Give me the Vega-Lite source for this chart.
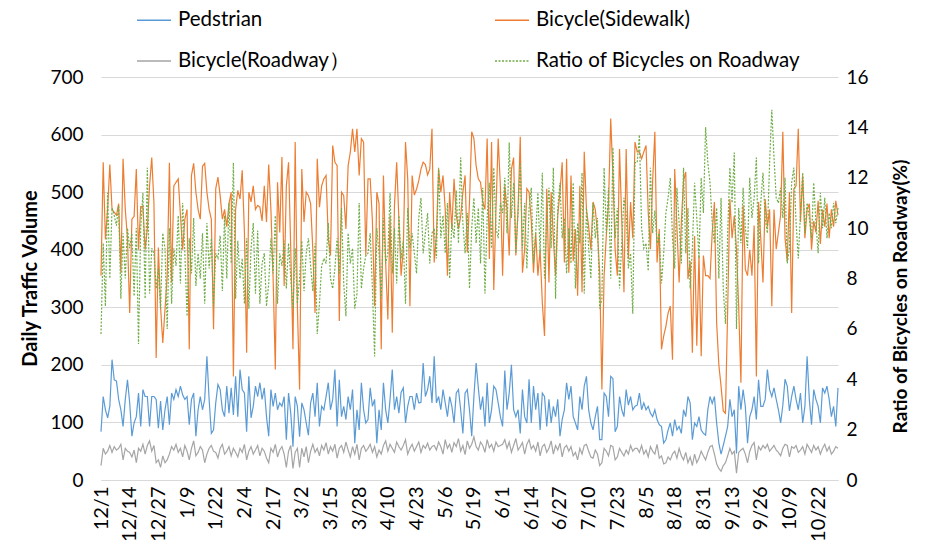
{
  "$schema": "https://vega.github.io/schema/vega-lite/v6.json",
  "width": 737,
  "height": 403,
  "autosize": {"type": "none"},
  "padding": {"left": 101, "top": 77, "right": 90, "bottom": 69},
  "background": "white",
  "config": {"font": "Lato", "view": {"stroke": null}},
  "data": {
    "format": {"parse": {"d": "date:'%Y-%m-%d'"}},
    "values": [
{"d":"2018-12-01","p":84,"s":355,"r":25,"q":5.8},
{"d":"2018-12-02","p":145,"s":552,"r":55,"q":9.4},
{"d":"2018-12-03","p":122,"s":418,"r":45,"q":6.9},
{"d":"2018-12-04","p":108,"s":470,"r":50,"q":11.4},
{"d":"2018-12-05","p":128,"s":548,"r":60,"q":8.0},
{"d":"2018-12-06","p":209,"s":470,"r":48,"q":10.8},
{"d":"2018-12-07","p":174,"s":465,"r":58,"q":10.5},
{"d":"2018-12-08","p":172,"s":460,"r":52,"q":10.1},
{"d":"2018-12-09","p":140,"s":480,"r":55,"q":10.9},
{"d":"2018-12-10","p":122,"s":360,"r":62,"q":7.2},
{"d":"2018-12-11","p":93,"s":558,"r":35,"q":9.8},
{"d":"2018-12-12","p":140,"s":470,"r":55,"q":8.0},
{"d":"2018-12-13","p":174,"s":420,"r":50,"q":10.0},
{"d":"2018-12-14","p":134,"s":290,"r":48,"q":9.2},
{"d":"2018-12-15","p":76,"s":453,"r":40,"q":9.8},
{"d":"2018-12-16","p":99,"s":458,"r":52,"q":7.3},
{"d":"2018-12-17","p":110,"s":540,"r":30,"q":10.0},
{"d":"2018-12-18","p":151,"s":400,"r":55,"q":5.4},
{"d":"2018-12-19","p":93,"s":475,"r":50,"q":10.0},
{"d":"2018-12-20","p":157,"s":475,"r":62,"q":11.4},
{"d":"2018-12-21","p":145,"s":400,"r":45,"q":7.2},
{"d":"2018-12-22","p":145,"s":436,"r":60,"q":12.4},
{"d":"2018-12-23","p":93,"s":511,"r":68,"q":7.4},
{"d":"2018-12-24","p":145,"s":560,"r":50,"q":9.2},
{"d":"2018-12-25","p":145,"s":480,"r":60,"q":9.0},
{"d":"2018-12-26","p":140,"s":212,"r":30,"q":7.6},
{"d":"2018-12-27","p":90,"s":404,"r":35,"q":8.4},
{"d":"2018-12-28","p":137,"s":300,"r":22,"q":6.8},
{"d":"2018-12-29","p":87,"s":238,"r":42,"q":9.8},
{"d":"2018-12-30","p":122,"s":296,"r":30,"q":9.2},
{"d":"2018-12-31","p":145,"s":355,"r":35,"q":6.0},
{"d":"2019-01-01","p":96,"s":551,"r":45,"q":10.0},
{"d":"2019-01-02","p":151,"s":343,"r":58,"q":7.0},
{"d":"2019-01-03","p":140,"s":511,"r":52,"q":9.2},
{"d":"2019-01-04","p":157,"s":517,"r":62,"q":8.5},
{"d":"2019-01-05","p":145,"s":523,"r":48,"q":10.5},
{"d":"2019-01-06","p":163,"s":460,"r":55,"q":7.8},
{"d":"2019-01-07","p":148,"s":400,"r":40,"q":11.0},
{"d":"2019-01-08","p":140,"s":453,"r":60,"q":9.0},
{"d":"2019-01-09","p":145,"s":470,"r":50,"q":6.5},
{"d":"2019-01-10","p":96,"s":227,"r":35,"q":9.6},
{"d":"2019-01-11","p":140,"s":529,"r":55,"q":8.2},
{"d":"2019-01-12","p":151,"s":550,"r":68,"q":10.4},
{"d":"2019-01-13","p":76,"s":500,"r":42,"q":7.7},
{"d":"2019-01-14","p":122,"s":470,"r":48,"q":9.0},
{"d":"2019-01-15","p":145,"s":453,"r":58,"q":8.0},
{"d":"2019-01-16","p":122,"s":545,"r":52,"q":9.8},
{"d":"2019-01-17","p":140,"s":550,"r":30,"q":7.0},
{"d":"2019-01-18","p":215,"s":500,"r":45,"q":10.2},
{"d":"2019-01-19","p":140,"s":470,"r":55,"q":8.4},
{"d":"2019-01-20","p":81,"s":453,"r":60,"q":9.6},
{"d":"2019-01-21","p":87,"s":262,"r":50,"q":6.9},
{"d":"2019-01-22","p":134,"s":506,"r":48,"q":9.0},
{"d":"2019-01-23","p":166,"s":526,"r":38,"q":8.8},
{"d":"2019-01-24","p":157,"s":494,"r":55,"q":9.7},
{"d":"2019-01-25","p":122,"s":453,"r":62,"q":7.5},
{"d":"2019-01-26","p":110,"s":470,"r":45,"q":10.5},
{"d":"2019-01-27","p":163,"s":440,"r":50,"q":8.0},
{"d":"2019-01-28","p":116,"s":480,"r":58,"q":11.0},
{"d":"2019-01-29","p":160,"s":500,"r":42,"q":8.6},
{"d":"2019-01-30","p":113,"s":180,"r":55,"q":12.6},
{"d":"2019-01-31","p":180,"s":470,"r":48,"q":7.2},
{"d":"2019-02-01","p":110,"s":503,"r":40,"q":9.5},
{"d":"2019-02-02","p":192,"s":488,"r":55,"q":8.0},
{"d":"2019-02-03","p":157,"s":538,"r":48,"q":8.8},
{"d":"2019-02-04","p":151,"s":430,"r":62,"q":7.0},
{"d":"2019-02-05","p":84,"s":221,"r":35,"q":9.6},
{"d":"2019-02-06","p":180,"s":500,"r":50,"q":6.8},
{"d":"2019-02-07","p":108,"s":483,"r":58,"q":9.2},
{"d":"2019-02-08","p":128,"s":511,"r":45,"q":10.2},
{"d":"2019-02-09","p":163,"s":470,"r":52,"q":7.4},
{"d":"2019-02-10","p":145,"s":477,"r":60,"q":9.9},
{"d":"2019-02-11","p":169,"s":474,"r":42,"q":7.0},
{"d":"2019-02-12","p":140,"s":450,"r":55,"q":8.6},
{"d":"2019-02-13","p":160,"s":511,"r":50,"q":9.0},
{"d":"2019-02-14","p":110,"s":448,"r":38,"q":6.9},
{"d":"2019-02-15","p":76,"s":548,"r":30,"q":7.8},
{"d":"2019-02-16","p":157,"s":470,"r":55,"q":9.6},
{"d":"2019-02-17","p":128,"s":350,"r":48,"q":8.2},
{"d":"2019-02-18","p":151,"s":192,"r":62,"q":10.5},
{"d":"2019-02-19","p":122,"s":517,"r":40,"q":7.0},
{"d":"2019-02-20","p":134,"s":430,"r":52,"q":9.0},
{"d":"2019-02-21","p":128,"s":561,"r":58,"q":8.5},
{"d":"2019-02-22","p":145,"s":337,"r":45,"q":9.5},
{"d":"2019-02-23","p":70,"s":511,"r":22,"q":7.6},
{"d":"2019-02-24","p":151,"s":552,"r":50,"q":9.4},
{"d":"2019-02-25","p":116,"s":400,"r":60,"q":8.0},
{"d":"2019-02-26","p":58,"s":227,"r":20,"q":6.8},
{"d":"2019-02-27","p":145,"s":587,"r":48,"q":9.2},
{"d":"2019-02-28","p":128,"s":300,"r":55,"q":7.0},
{"d":"2019-03-01","p":75,"s":157,"r":22,"q":8.0},
{"d":"2019-03-02","p":134,"s":540,"r":55,"q":9.5},
{"d":"2019-03-03","p":122,"s":448,"r":40,"q":7.5},
{"d":"2019-03-04","p":99,"s":500,"r":58,"q":9.0},
{"d":"2019-03-05","p":78,"s":494,"r":30,"q":9.6},
{"d":"2019-03-06","p":134,"s":480,"r":50,"q":8.5},
{"d":"2019-03-07","p":151,"s":400,"r":62,"q":7.5},
{"d":"2019-03-08","p":110,"s":290,"r":48,"q":9.4},
{"d":"2019-03-09","p":169,"s":558,"r":55,"q":5.8},
{"d":"2019-03-10","p":93,"s":474,"r":42,"q":7.0},
{"d":"2019-03-11","p":128,"s":511,"r":60,"q":8.5},
{"d":"2019-03-12","p":122,"s":523,"r":52,"q":8.8},
{"d":"2019-03-13","p":145,"s":529,"r":65,"q":8.6},
{"d":"2019-03-14","p":169,"s":420,"r":45,"q":10.2},
{"d":"2019-03-15","p":122,"s":390,"r":58,"q":8.0},
{"d":"2019-03-16","p":140,"s":581,"r":50,"q":7.6},
{"d":"2019-03-17","p":192,"s":552,"r":62,"q":8.4},
{"d":"2019-03-18","p":93,"s":546,"r":38,"q":9.6},
{"d":"2019-03-19","p":174,"s":276,"r":55,"q":8.2},
{"d":"2019-03-20","p":110,"s":500,"r":60,"q":10.8},
{"d":"2019-03-21","p":128,"s":494,"r":48,"q":7.8},
{"d":"2019-03-22","p":105,"s":436,"r":66,"q":6.5},
{"d":"2019-03-23","p":145,"s":546,"r":52,"q":9.8},
{"d":"2019-03-24","p":122,"s":570,"r":40,"q":8.6},
{"d":"2019-03-25","p":157,"s":610,"r":58,"q":9.2},
{"d":"2019-03-26","p":64,"s":570,"r":45,"q":6.8},
{"d":"2019-03-27","p":122,"s":610,"r":62,"q":7.4},
{"d":"2019-03-28","p":87,"s":529,"r":35,"q":11.0},
{"d":"2019-03-29","p":169,"s":593,"r":55,"q":7.6},
{"d":"2019-03-30","p":122,"s":587,"r":60,"q":8.4},
{"d":"2019-03-31","p":99,"s":390,"r":50,"q":8.9},
{"d":"2019-04-01","p":105,"s":523,"r":55,"q":9.0},
{"d":"2019-04-02","p":160,"s":523,"r":62,"q":9.8},
{"d":"2019-04-03","p":128,"s":450,"r":48,"q":7.6},
{"d":"2019-04-04","p":140,"s":302,"r":58,"q":4.9},
{"d":"2019-04-05","p":64,"s":500,"r":40,"q":10.0},
{"d":"2019-04-06","p":122,"s":480,"r":52,"q":9.0},
{"d":"2019-04-07","p":87,"s":227,"r":45,"q":7.2},
{"d":"2019-04-08","p":169,"s":529,"r":60,"q":10.4},
{"d":"2019-04-09","p":122,"s":378,"r":68,"q":8.6},
{"d":"2019-04-10","p":99,"s":279,"r":50,"q":9.0},
{"d":"2019-04-11","p":140,"s":459,"r":62,"q":11.4},
{"d":"2019-04-12","p":192,"s":256,"r":55,"q":8.2},
{"d":"2019-04-13","p":122,"s":477,"r":48,"q":10.0},
{"d":"2019-04-14","p":145,"s":552,"r":66,"q":7.8},
{"d":"2019-04-15","p":116,"s":453,"r":58,"q":10.5},
{"d":"2019-04-16","p":152,"s":355,"r":52,"q":8.8},
{"d":"2019-04-17","p":160,"s":401,"r":60,"q":9.5},
{"d":"2019-04-18","p":99,"s":587,"r":70,"q":7.0},
{"d":"2019-04-19","p":128,"s":523,"r":45,"q":10.8},
{"d":"2019-04-20","p":145,"s":302,"r":55,"q":9.2},
{"d":"2019-04-21","p":145,"s":529,"r":62,"q":9.8},
{"d":"2019-04-22","p":122,"s":495,"r":50,"q":9.0},
{"d":"2019-04-23","p":151,"s":505,"r":58,"q":8.2},
{"d":"2019-04-24","p":134,"s":520,"r":66,"q":10.4},
{"d":"2019-04-25","p":135,"s":540,"r":48,"q":11.2},
{"d":"2019-04-26","p":203,"s":552,"r":60,"q":9.0},
{"d":"2019-04-27","p":145,"s":548,"r":55,"q":9.8},
{"d":"2019-04-28","p":157,"s":530,"r":64,"q":10.6},
{"d":"2019-04-29","p":180,"s":540,"r":52,"q":8.6},
{"d":"2019-04-30","p":134,"s":610,"r":58,"q":9.8},
{"d":"2019-05-01","p":215,"s":378,"r":60,"q":10.0},
{"d":"2019-05-02","p":134,"s":424,"r":52,"q":8.8},
{"d":"2019-05-03","p":145,"s":540,"r":66,"q":12.4},
{"d":"2019-05-04","p":122,"s":500,"r":58,"q":9.6},
{"d":"2019-05-05","p":157,"s":529,"r":45,"q":10.5},
{"d":"2019-05-06","p":134,"s":470,"r":70,"q":9.0},
{"d":"2019-05-07","p":110,"s":355,"r":55,"q":11.0},
{"d":"2019-05-08","p":145,"s":500,"r":62,"q":8.0},
{"d":"2019-05-09","p":128,"s":436,"r":48,"q":10.2},
{"d":"2019-05-10","p":99,"s":523,"r":65,"q":9.6},
{"d":"2019-05-11","p":151,"s":460,"r":58,"q":11.5},
{"d":"2019-05-12","p":157,"s":436,"r":72,"q":9.4},
{"d":"2019-05-13","p":122,"s":458,"r":50,"q":12.8},
{"d":"2019-05-14","p":81,"s":500,"r":60,"q":10.2},
{"d":"2019-05-15","p":151,"s":529,"r":44,"q":9.0},
{"d":"2019-05-16","p":157,"s":395,"r":68,"q":10.6},
{"d":"2019-05-17","p":122,"s":483,"r":55,"q":7.6},
{"d":"2019-05-18","p":76,"s":605,"r":62,"q":10.0},
{"d":"2019-05-19","p":145,"s":593,"r":75,"q":11.2},
{"d":"2019-05-20","p":203,"s":546,"r":58,"q":9.4},
{"d":"2019-05-21","p":160,"s":523,"r":52,"q":10.8},
{"d":"2019-05-22","p":122,"s":517,"r":66,"q":8.6},
{"d":"2019-05-23","p":145,"s":483,"r":60,"q":11.6},
{"d":"2019-05-24","p":93,"s":470,"r":48,"q":7.4},
{"d":"2019-05-25","p":169,"s":593,"r":70,"q":10.4},
{"d":"2019-05-26","p":99,"s":384,"r":56,"q":11.8},
{"d":"2019-05-27","p":122,"s":587,"r":62,"q":9.2},
{"d":"2019-05-28","p":163,"s":330,"r":50,"q":12.4},
{"d":"2019-05-29","p":157,"s":470,"r":66,"q":10.0},
{"d":"2019-05-30","p":134,"s":593,"r":58,"q":9.6},
{"d":"2019-05-31","p":110,"s":510,"r":60,"q":11.0},
{"d":"2019-06-01","p":93,"s":355,"r":62,"q":10.6},
{"d":"2019-06-02","p":190,"s":511,"r":70,"q":12.0},
{"d":"2019-06-03","p":122,"s":470,"r":55,"q":9.8},
{"d":"2019-06-04","p":151,"s":390,"r":66,"q":13.4},
{"d":"2019-06-05","p":200,"s":540,"r":48,"q":10.4},
{"d":"2019-06-06","p":122,"s":560,"r":60,"q":11.8},
{"d":"2019-06-07","p":110,"s":390,"r":72,"q":9.0},
{"d":"2019-06-08","p":122,"s":470,"r":52,"q":10.6},
{"d":"2019-06-09","p":81,"s":596,"r":58,"q":12.6},
{"d":"2019-06-10","p":157,"s":360,"r":65,"q":9.2},
{"d":"2019-06-11","p":110,"s":401,"r":45,"q":11.0},
{"d":"2019-06-12","p":99,"s":506,"r":62,"q":8.4},
{"d":"2019-06-13","p":175,"s":500,"r":70,"q":10.8},
{"d":"2019-06-14","p":99,"s":450,"r":54,"q":11.6},
{"d":"2019-06-15","p":163,"s":360,"r":60,"q":8.6},
{"d":"2019-06-16","p":122,"s":430,"r":50,"q":9.8},
{"d":"2019-06-17","p":151,"s":355,"r":66,"q":11.4},
{"d":"2019-06-18","p":87,"s":400,"r":42,"q":9.0},
{"d":"2019-06-19","p":151,"s":308,"r":58,"q":12.2},
{"d":"2019-06-20","p":145,"s":250,"r":62,"q":8.0},
{"d":"2019-06-21","p":93,"s":506,"r":48,"q":10.4},
{"d":"2019-06-22","p":140,"s":343,"r":55,"q":11.6},
{"d":"2019-06-23","p":99,"s":500,"r":68,"q":9.2},
{"d":"2019-06-24","p":128,"s":420,"r":45,"q":12.4},
{"d":"2019-06-25","p":110,"s":355,"r":60,"q":7.2},
{"d":"2019-06-26","p":140,"s":460,"r":52,"q":10.8},
{"d":"2019-06-27","p":76,"s":500,"r":64,"q":11.8},
{"d":"2019-06-28","p":105,"s":552,"r":40,"q":9.6},
{"d":"2019-06-29","p":122,"s":378,"r":56,"q":10.4},
{"d":"2019-06-30","p":169,"s":558,"r":60,"q":8.2},
{"d":"2019-07-01","p":140,"s":360,"r":50,"q":10.0},
{"d":"2019-07-02","p":163,"s":529,"r":58,"q":8.6},
{"d":"2019-07-03","p":110,"s":380,"r":42,"q":11.8},
{"d":"2019-07-04","p":99,"s":436,"r":48,"q":7.6},
{"d":"2019-07-05","p":87,"s":320,"r":35,"q":10.2},
{"d":"2019-07-06","p":145,"s":511,"r":55,"q":9.4},
{"d":"2019-07-07","p":122,"s":326,"r":45,"q":12.2},
{"d":"2019-07-08","p":163,"s":570,"r":60,"q":7.4},
{"d":"2019-07-09","p":180,"s":470,"r":62,"q":10.8},
{"d":"2019-07-10","p":122,"s":440,"r":50,"q":9.2},
{"d":"2019-07-11","p":99,"s":400,"r":40,"q":8.0},
{"d":"2019-07-12","p":87,"s":483,"r":38,"q":11.0},
{"d":"2019-07-13","p":110,"s":470,"r":52,"q":9.6},
{"d":"2019-07-14","p":128,"s":430,"r":45,"q":10.4},
{"d":"2019-07-15","p":70,"s":360,"r":25,"q":6.8},
{"d":"2019-07-16","p":70,"s":157,"r":30,"q":7.2},
{"d":"2019-07-17","p":151,"s":355,"r":55,"q":12.4},
{"d":"2019-07-18","p":145,"s":424,"r":50,"q":9.8},
{"d":"2019-07-19","p":110,"s":480,"r":42,"q":11.6},
{"d":"2019-07-20","p":180,"s":628,"r":60,"q":8.0},
{"d":"2019-07-21","p":176,"s":529,"r":58,"q":13.2},
{"d":"2019-07-22","p":84,"s":400,"r":35,"q":9.6},
{"d":"2019-07-23","p":93,"s":355,"r":40,"q":10.8},
{"d":"2019-07-24","p":145,"s":575,"r":55,"q":7.6},
{"d":"2019-07-25","p":122,"s":450,"r":48,"q":9.4},
{"d":"2019-07-26","p":110,"s":326,"r":42,"q":11.2},
{"d":"2019-07-27","p":157,"s":575,"r":52,"q":10.6},
{"d":"2019-07-28","p":130,"s":384,"r":45,"q":8.4},
{"d":"2019-07-29","p":145,"s":483,"r":60,"q":9.0},
{"d":"2019-07-30","p":122,"s":420,"r":50,"q":6.6},
{"d":"2019-07-31","p":128,"s":587,"r":55,"q":12.6},
{"d":"2019-08-01","p":130,"s":570,"r":55,"q":12.6},
{"d":"2019-08-02","p":151,"s":570,"r":48,"q":13.7},
{"d":"2019-08-03","p":122,"s":558,"r":60,"q":10.0},
{"d":"2019-08-04","p":134,"s":570,"r":45,"q":9.2},
{"d":"2019-08-05","p":122,"s":581,"r":52,"q":9.4},
{"d":"2019-08-06","p":128,"s":465,"r":40,"q":8.3},
{"d":"2019-08-07","p":116,"s":401,"r":58,"q":12.4},
{"d":"2019-08-08","p":110,"s":520,"r":50,"q":9.8},
{"d":"2019-08-09","p":122,"s":605,"r":45,"q":10.7},
{"d":"2019-08-10","p":105,"s":378,"r":62,"q":9.4},
{"d":"2019-08-11","p":96,"s":436,"r":38,"q":9.8},
{"d":"2019-08-12","p":93,"s":227,"r":42,"q":7.8},
{"d":"2019-08-13","p":64,"s":250,"r":28,"q":9.0},
{"d":"2019-08-14","p":70,"s":267,"r":30,"q":10.6},
{"d":"2019-08-15","p":87,"s":290,"r":40,"q":11.2},
{"d":"2019-08-16","p":99,"s":302,"r":35,"q":12.0},
{"d":"2019-08-17","p":76,"s":209,"r":45,"q":9.6},
{"d":"2019-08-18","p":105,"s":540,"r":50,"q":8.4},
{"d":"2019-08-19","p":87,"s":440,"r":38,"q":11.6},
{"d":"2019-08-20","p":93,"s":343,"r":55,"q":10.2},
{"d":"2019-08-21","p":81,"s":448,"r":42,"q":8.6},
{"d":"2019-08-22","p":122,"s":520,"r":35,"q":12.4},
{"d":"2019-08-23","p":110,"s":535,"r":48,"q":9.0},
{"d":"2019-08-24","p":145,"s":349,"r":30,"q":10.8},
{"d":"2019-08-25","p":134,"s":380,"r":40,"q":7.6},
{"d":"2019-08-26","p":70,"s":221,"r":25,"q":9.2},
{"d":"2019-08-27","p":99,"s":424,"r":45,"q":11.8},
{"d":"2019-08-28","p":93,"s":233,"r":30,"q":10.4},
{"d":"2019-08-29","p":110,"s":390,"r":38,"q":8.8},
{"d":"2019-08-30","p":87,"s":215,"r":50,"q":12.0},
{"d":"2019-08-31","p":81,"s":390,"r":42,"q":10.6},
{"d":"2019-09-01","p":78,"s":355,"r":35,"q":14.0},
{"d":"2019-09-02","p":122,"s":355,"r":48,"q":12.6},
{"d":"2019-09-03","p":145,"s":350,"r":58,"q":11.8},
{"d":"2019-09-04","p":133,"s":430,"r":60,"q":10.2},
{"d":"2019-09-05","p":145,"s":483,"r":45,"q":9.4},
{"d":"2019-09-06","p":99,"s":273,"r":28,"q":10.8},
{"d":"2019-09-07","p":64,"s":200,"r":20,"q":8.0},
{"d":"2019-09-08","p":45,"s":163,"r":15,"q":11.2},
{"d":"2019-09-09","p":60,"s":120,"r":25,"q":7.6},
{"d":"2019-09-10","p":76,"s":116,"r":30,"q":6.2},
{"d":"2019-09-11","p":93,"s":296,"r":42,"q":9.8},
{"d":"2019-09-12","p":140,"s":488,"r":55,"q":12.4},
{"d":"2019-09-13","p":110,"s":420,"r":45,"q":11.0},
{"d":"2019-09-14","p":122,"s":459,"r":50,"q":13.0},
{"d":"2019-09-15","p":46,"s":400,"r":12,"q":6.0},
{"d":"2019-09-16","p":163,"s":300,"r":48,"q":10.8},
{"d":"2019-09-17","p":122,"s":169,"r":52,"q":9.4},
{"d":"2019-09-18","p":157,"s":477,"r":55,"q":11.6},
{"d":"2019-09-19","p":128,"s":366,"r":45,"q":10.0},
{"d":"2019-09-20","p":64,"s":355,"r":30,"q":9.2},
{"d":"2019-09-21","p":110,"s":400,"r":50,"q":12.0},
{"d":"2019-09-22","p":122,"s":355,"r":60,"q":10.4},
{"d":"2019-09-23","p":145,"s":442,"r":65,"q":11.2},
{"d":"2019-09-24","p":105,"s":180,"r":35,"q":12.8},
{"d":"2019-09-25","p":174,"s":483,"r":58,"q":8.6},
{"d":"2019-09-26","p":128,"s":420,"r":52,"q":11.0},
{"d":"2019-09-27","p":128,"s":343,"r":60,"q":12.2},
{"d":"2019-09-28","p":140,"s":488,"r":55,"q":10.4},
{"d":"2019-09-29","p":192,"s":440,"r":62,"q":9.8},
{"d":"2019-09-30","p":157,"s":470,"r":50,"q":12.6},
{"d":"2019-10-01","p":145,"s":302,"r":55,"q":14.7},
{"d":"2019-10-02","p":160,"s":470,"r":60,"q":12.8},
{"d":"2019-10-03","p":140,"s":401,"r":52,"q":11.2},
{"d":"2019-10-04","p":122,"s":430,"r":48,"q":11.0},
{"d":"2019-10-05","p":99,"s":460,"r":42,"q":11.6},
{"d":"2019-10-06","p":130,"s":605,"r":55,"q":10.4},
{"d":"2019-10-07","p":175,"s":420,"r":62,"q":12.0},
{"d":"2019-10-08","p":163,"s":380,"r":60,"q":8.6},
{"d":"2019-10-09","p":120,"s":500,"r":40,"q":9.2},
{"d":"2019-10-10","p":145,"s":290,"r":58,"q":11.8},
{"d":"2019-10-11","p":163,"s":506,"r":55,"q":12.4},
{"d":"2019-10-12","p":140,"s":511,"r":60,"q":10.2},
{"d":"2019-10-13","p":122,"s":610,"r":48,"q":8.8},
{"d":"2019-10-14","p":151,"s":448,"r":52,"q":10.6},
{"d":"2019-10-15","p":99,"s":529,"r":58,"q":12.2},
{"d":"2019-10-16","p":128,"s":420,"r":45,"q":9.8},
{"d":"2019-10-17","p":215,"s":470,"r":62,"q":11.0},
{"d":"2019-10-18","p":140,"s":480,"r":55,"q":10.4},
{"d":"2019-10-19","p":96,"s":400,"r":48,"q":9.6},
{"d":"2019-10-20","p":157,"s":450,"r":60,"q":11.8},
{"d":"2019-10-21","p":140,"s":430,"r":52,"q":10.2},
{"d":"2019-10-22","p":128,"s":485,"r":58,"q":9.0},
{"d":"2019-10-23","p":99,"s":410,"r":45,"q":11.4},
{"d":"2019-10-24","p":160,"s":470,"r":55,"q":10.0},
{"d":"2019-10-25","p":151,"s":440,"r":62,"q":11.2},
{"d":"2019-10-26","p":163,"s":480,"r":50,"q":9.6},
{"d":"2019-10-27","p":140,"s":420,"r":58,"q":10.6},
{"d":"2019-10-28","p":110,"s":470,"r":45,"q":10.0},
{"d":"2019-10-29","p":128,"s":440,"r":50,"q":11.0},
{"d":"2019-10-30","p":93,"s":485,"r":58,"q":10.2},
{"d":"2019-10-31","p":160,"s":460,"r":55,"q":10.8}
    ]
  },
  "encoding": {
    "x": {
      "field": "d",
      "type": "temporal",
      "scale": {"domain": [{"year": 2018, "month": 12, "date": 1}, {"year": 2019, "month": 10, "date": 31}], "nice": false},
      "axis": {
        "title": null,
        "format": "%-m/%-d",
        "labelAngle": 270,
        "labelFontSize": 20,
        "labelColor": "#000",
        "labelPadding": 6,
        "labelOverlap": false,
        "labelFlush": false,
        "ticks": false,
        "grid": false,
        "domainColor": "#d9d9d9",
        "values": [
          {"year": 2018, "month": 12, "date": 1},
          {"year": 2018, "month": 12, "date": 14},
          {"year": 2018, "month": 12, "date": 27},
          {"year": 2019, "month": 1, "date": 9},
          {"year": 2019, "month": 1, "date": 22},
          {"year": 2019, "month": 2, "date": 4},
          {"year": 2019, "month": 2, "date": 17},
          {"year": 2019, "month": 3, "date": 2},
          {"year": 2019, "month": 3, "date": 15},
          {"year": 2019, "month": 3, "date": 28},
          {"year": 2019, "month": 4, "date": 10},
          {"year": 2019, "month": 4, "date": 23},
          {"year": 2019, "month": 5, "date": 6},
          {"year": 2019, "month": 5, "date": 19},
          {"year": 2019, "month": 6, "date": 1},
          {"year": 2019, "month": 6, "date": 14},
          {"year": 2019, "month": 6, "date": 27},
          {"year": 2019, "month": 7, "date": 10},
          {"year": 2019, "month": 7, "date": 23},
          {"year": 2019, "month": 8, "date": 5},
          {"year": 2019, "month": 8, "date": 18},
          {"year": 2019, "month": 8, "date": 31},
          {"year": 2019, "month": 9, "date": 13},
          {"year": 2019, "month": 9, "date": 26},
          {"year": 2019, "month": 10, "date": 9},
          {"year": 2019, "month": 10, "date": 22}
        ]
      }
    }
  },
  "layer": [
    {
      "transform": [{"fold": ["p", "s", "r"], "as": ["key", "value"]}],
      "mark": {"type": "line", "strokeWidth": 1.2},
      "encoding": {
        "y": {
          "field": "value",
          "type": "quantitative",
          "scale": {"domain": [0, 700], "nice": false},
          "axis": {
            "values": [0, 100, 200, 300, 400, 500, 600, 700],
            "grid": true,
            "gridColor": "#d9d9d9",
            "domain": false,
            "ticks": false,
            "labelFontSize": 19,
            "labelColor": "#000",
            "labelPadding": 18,
            "title": "Daily Traffic Volume",
            "titleFontSize": 20,
            "titleFontWeight": "bold",
            "titleColor": "#000",
            "titleAngle": 270,
            "titleX": -71,
            "titleY": 201,
            "titleAlign": "center",
            "titleBaseline": "middle"
          }
        },
        "color": {
          "field": "key",
          "type": "nominal",
          "scale": {"domain": ["p", "r", "s", "q"], "range": ["#5B9BD5", "#A5A5A5", "#ED7D31", "#70AD47"]},
          "legend": {
            "title": null,
            "orient": "none",
            "legendX": 35,
            "legendY": -75,
            "columns": 2,
            "columnPadding": 142,
            "rowPadding": 12,
            "symbolType": "stroke",
            "symbolSize": 1156,
            "symbolStrokeWidth": 1.5,
            "labelFontSize": 20.5,
            "labelColor": "#000",
            "labelOffset": 6,
            "labelLimit": 400,
            "labelExpr": "datum.value == 'p' ? 'Pedstrian' : datum.value == 's' ? 'Bicycle(Sidewalk)' : datum.value == 'r' ? 'Bicycle(Roadway）' : 'Ratio of Bicycles on Roadway'"
          }
        },
        "strokeDash": {
          "field": "key",
          "type": "nominal",
          "scale": {"domain": ["p", "r", "s", "q"], "range": [[1, 0], [1, 0], [1, 0], [2, 1.5]]},
          "legend": {
            "title": null,
            "orient": "none",
            "legendX": 35,
            "legendY": -75,
            "columns": 2,
            "columnPadding": 142,
            "rowPadding": 12,
            "symbolType": "stroke",
            "symbolSize": 1156,
            "symbolStrokeWidth": 1.5,
            "labelFontSize": 20.5,
            "labelColor": "#000",
            "labelOffset": 6,
            "labelLimit": 400,
            "labelExpr": "datum.value == 'p' ? 'Pedstrian' : datum.value == 's' ? 'Bicycle(Sidewalk)' : datum.value == 'r' ? 'Bicycle(Roadway）' : 'Ratio of Bicycles on Roadway'"
          }
        }
      }
    },
    {
      "transform": [{"fold": ["q"], "as": ["key", "value"]}],
      "mark": {"type": "line", "strokeWidth": 1.2},
      "encoding": {
        "y": {
          "field": "value",
          "type": "quantitative",
          "scale": {"domain": [0, 16], "nice": false},
          "axis": {
            "orient": "right",
            "values": [0, 2, 4, 6, 8, 10, 12, 14, 16],
            "grid": false,
            "domain": false,
            "ticks": false,
            "labelFontSize": 19,
            "labelColor": "#000",
            "labelPadding": 8,
            "title": "Ratio of Bicycles on Roadway(%)",
            "titleFontSize": 19,
            "titleFontWeight": "bold",
            "titleColor": "#000",
            "titleAngle": 270,
            "titleX": 62,
            "titleY": 219,
            "titleAlign": "center",
            "titleBaseline": "middle"
          }
        },
        "color": {"field": "key", "type": "nominal"},
        "strokeDash": {"field": "key", "type": "nominal"}
      }
    }
  ],
  "resolve": {"scale": {"y": "independent"}}
}
